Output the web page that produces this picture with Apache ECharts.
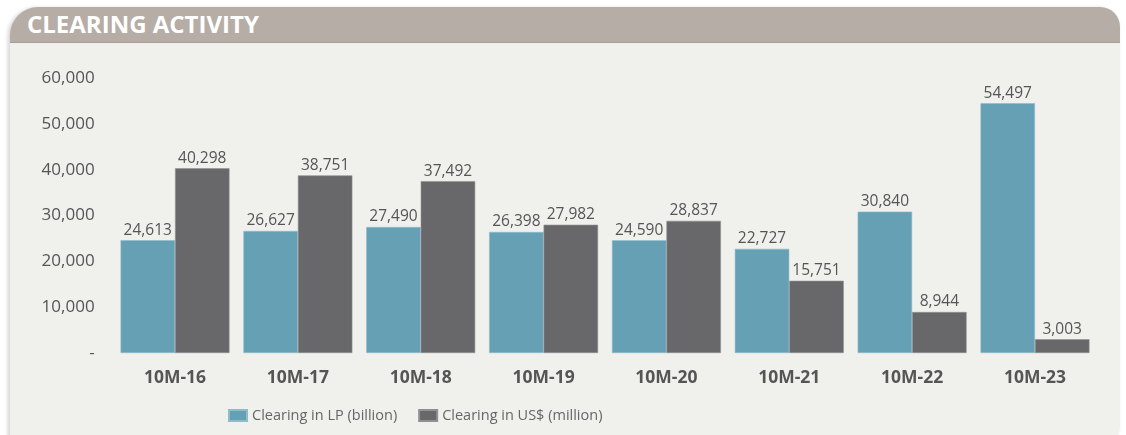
<!DOCTYPE html>
<html>
<head>
<meta charset="utf-8">
<script src="https://cdn.jsdelivr.net/npm/echarts@6/dist/echarts.min.js"></script>
<style>
  html, body { margin: 0; padding: 0; background: #ffffff; width: 1126px; height: 435px; overflow: hidden; }
  #card { position: absolute; left: 10px; top: 7px; width: 1110px; height: 440px; background: #f0f0ec;
          border-radius: 28px 20px 22px 0; box-shadow: -2px 1px 4px rgba(0,0,0,0.18); overflow: hidden; }
  #head { position: absolute; left: 0; top: 0; width: 100%; height: 35px; background: #b5ada6;
          border-bottom: 1px solid #a59d96; }
  #title { position: absolute; left: 17px; top: 0px; color: #ffffff; font-family: "Open Sans", sans-serif;
           font-weight: 700; font-size: 24px; letter-spacing: 0px; }
  #chart { position: absolute; left: 0; top: 0; width: 1126px; height: 435px; }
</style>
</head>
<body>
<div id="card"><div id="head"><div id="title">CLEARING ACTIVITY</div></div></div>
<div id="chart"></div>
<script>
const categories = ['10M-16', '10M-17', '10M-18', '10M-19', '10M-20', '10M-21', '10M-22', '10M-23'];
const clearingLP = [24613, 26627, 27490, 26398, 24590, 22727, 30840, 54497];
const clearingUSD = [40298, 38751, 37492, 27982, 28837, 15751, 8944, 3003];
const seriesNames = ['Clearing in LP (billion)', 'Clearing in US$ (million)'];

const fmt = v => v === 0 ? '-' : v.toLocaleString('en-US');
const chart = echarts.init(document.getElementById('chart'), null, { renderer: 'canvas' });
const labelStyle = {
  show: true, position: 'top', distance: 2,
  color: '#555555', fontSize: 15.5, fontFamily: 'Open Sans',
  formatter: p => fmt(p.value)
};
chart.setOption({
  backgroundColor: 'transparent',
  animation: false,
  textStyle: { fontFamily: 'Open Sans' },
  grid: { left: 113.6, right: 29.6, top: 78, bottom: 82 },
  legend: {
    left: 223, top: 403, itemWidth: 18, itemHeight: 11, itemGap: 21, icon: 'rect',
    textStyle: { color: '#666666', fontSize: 14.5, fontFamily: 'Open Sans' },
    data: seriesNames
  },
  xAxis: {
    type: 'category', data: categories,
    axisLine: { show: false }, axisTick: { show: false },
    axisLabel: { color: '#555555', fontSize: 17.5, fontWeight: 'bold', margin: 16, fontFamily: 'Open Sans' }
  },
  yAxis: {
    type: 'value', min: 0, max: 60000, interval: 10000,
    splitLine: { show: false }, axisLine: { show: false }, axisTick: { show: false },
    axisLabel: { color: '#555555', fontSize: 17, margin: 19, fontFamily: 'Open Sans', formatter: fmt }
  },
  series: [
    { name: seriesNames[0], type: 'bar', data: clearingLP, barGap: '0%', barCategoryGap: '11.3%',
      itemStyle: { color: '#65a0b4', borderColor: '#8fbccb', borderWidth: 0.6 }, label: labelStyle },
    { name: seriesNames[1], type: 'bar', data: clearingUSD,
      itemStyle: { color: '#68686a', borderColor: '#909092', borderWidth: 0.6 }, label: labelStyle }
  ]
});
</script>
</body>
</html>
